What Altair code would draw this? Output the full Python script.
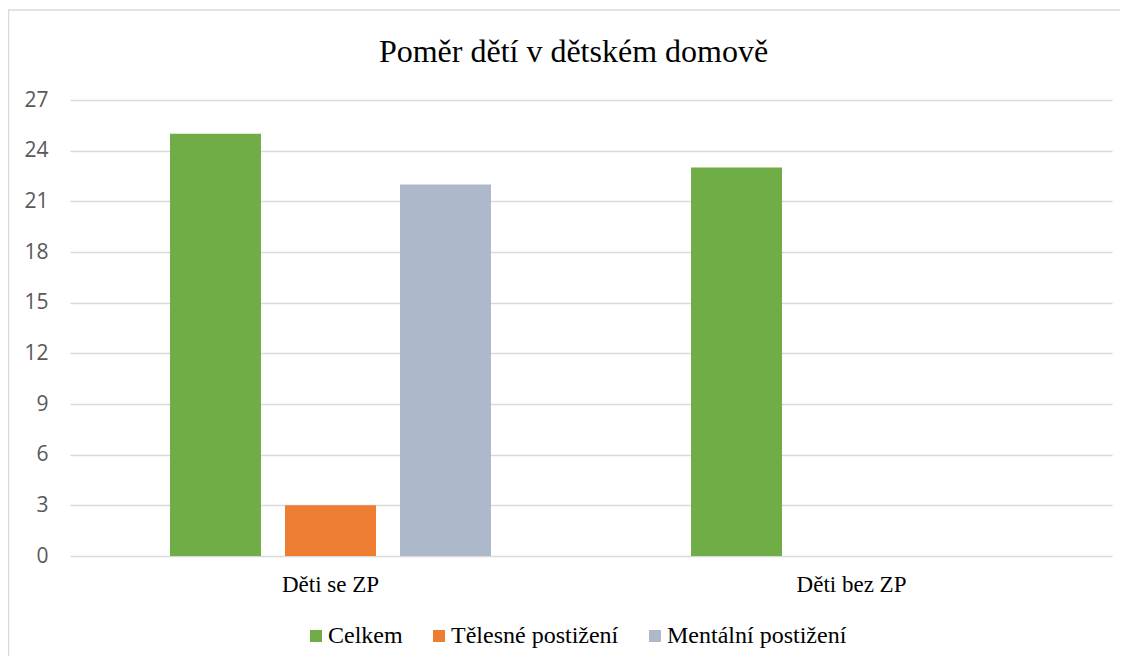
import altair as alt
import pandas as pd

categories = ["Děti se ZP", "Děti bez ZP"]
series = ["Celkem", "Tělesné postižení", "Mentální postižení"]
colors = ["#70AD47", "#ED7D31", "#ADB9CA"]
celkem = [25, 23]
telesne = [3, 0]
mentalni = [22, 0]
y_ticks = [0, 3, 6, 9, 12, 15, 18, 21, 24, 27]
title_text = "Poměr dětí v dětském domově"

rows = []
for i, c in enumerate(categories):
    for s, vals in zip(series, [celkem, telesne, mentalni]):
        rows.append({"kategorie": c, "serie": s, "hodnota": vals[i]})
df = pd.DataFrame(rows)

bars = alt.Chart(df).mark_bar().encode(
    x=alt.X("kategorie:N", sort=categories,
            scale=alt.Scale(paddingInner=0, paddingOuter=0),
            axis=alt.Axis(title=None, labelAngle=0, domain=False, ticks=False,
                          labelFont="Liberation Serif", labelFontSize=23,
                          labelColor="#000000", labelPadding=17)),
    xOffset=alt.XOffset("serie:N", sort=series,
                        scale=alt.Scale(paddingInner=0.2087, paddingOuter=0.8696)),
    y=alt.Y("hodnota:Q", scale=alt.Scale(domain=[0, 27], nice=False),
            axis=alt.Axis(title=None, values=y_ticks, domain=False, ticks=False,
                          grid=True, gridColor="#D9D9D9", gridWidth=1.3,
                          labelFont="Open Sans", labelFontSize=21,
                          labelColor="#595959", labelPadding=22)),
    color=alt.Color("serie:N", sort=series,
                    scale=alt.Scale(domain=series, range=colors),
                    legend=alt.Legend(title=None, orient="none", direction="horizontal",
                                      legendX=234, legendY=524, padding=0,
                                      symbolType="square", symbolSize=144,
                                      symbolStrokeWidth=0, labelLimit=0,
                                      labelFont="Liberation Serif", labelFontSize=24,
                                      labelColor="#000000", labelOffset=0,
                                      columnPadding=24)),
)

frame = alt.Chart(pd.DataFrame({"a": [0]})).mark_rect(
    fill=None, stroke="#D9D9D9", strokeWidth=1.5
).encode(
    x=alt.value(-61.5), x2=alt.value(1100), y=alt.value(-90), y2=alt.value(700)
)

title = alt.Chart(pd.DataFrame({"t": [title_text]})).mark_text(
    font="Liberation Serif", fontSize=32, color="#000000",
    align="center", baseline="alphabetic"
).encode(
    text="t:N", x=alt.value(503.5), y=alt.value(-38)
)

chart = alt.layer(frame, bars, title).properties(
    width=1042, height=456,
    autosize=alt.AutoSizeParams(type="none"),
    padding={"left": 62, "top": 92, "right": 8, "bottom": 100},
).configure_view(stroke=None)

chart.save("out.html", embed_options={"renderer": "svg", "actions": False})
